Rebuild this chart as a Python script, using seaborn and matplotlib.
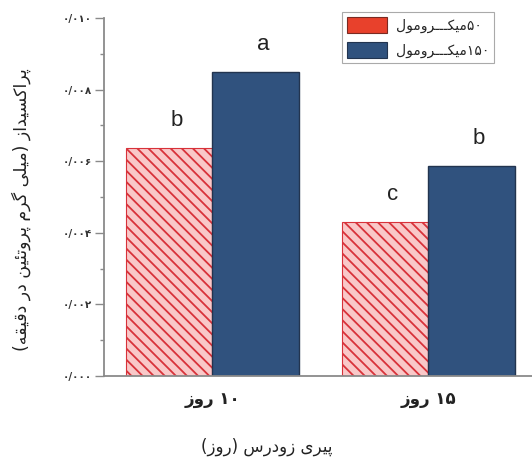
import matplotlib
matplotlib.use("Agg")
import matplotlib.pyplot as plt
from matplotlib.patches import Patch
from matplotlib.ticker import MultipleLocator
import seaborn as sns
import pandas as pd

# ---------------- data ----------------
days = ["۱۰ روز", "۱۵ روز"]
concs = ["۵۰میکـــرومول", "۱۵۰میکـــرومول"]
vals_50 = [0.00637, 0.00430]
vals_150 = [0.00848, 0.00587]
letters_50 = ["b", "c"]
letters_150 = ["a", "b"]
yticks = [0.000, 0.002, 0.004, 0.006, 0.008, 0.010]
ytick_labels = ["۰/۰۰۰", "۰/۰۰۲", "۰/۰۰۴", "۰/۰۰۶", "۰/۰۰۸", "۰/۰۱۰"]
xlabel = "پیری زودرس (روز)"
ylabel = "پراکسیداز (میلی گرم پروتئین در دقیقه)"

# ------------- minimal Persian shaping + bidi -------------
FORMS = {
    'ا': (0xFE8D, 0xFE8E, None, None),
    'ت': (0xFE95, 0xFE96, 0xFE97, 0xFE98),
    'ئ': (0xFE89, 0xFE8A, 0xFE8B, 0xFE8C),
    'د': (0xFEA9, 0xFEAA, None, None),
    'ر': (0xFEAD, 0xFEAE, None, None),
    'ز': (0xFEAF, 0xFEB0, None, None),
    'س': (0xFEB1, 0xFEB2, 0xFEB3, 0xFEB4),
    'ق': (0xFED5, 0xFED6, 0xFED7, 0xFED8),
    'ل': (0xFEDD, 0xFEDE, 0xFEDF, 0xFEE0),
    'م': (0xFEE1, 0xFEE2, 0xFEE3, 0xFEE4),
    'ن': (0xFEE5, 0xFEE6, 0xFEE7, 0xFEE8),
    'ه': (0xFEE9, 0xFEEA, 0xFEEB, 0xFEEC),
    'و': (0xFEED, 0xFEEE, None, None),
    'پ': (0xFB56, 0xFB57, 0xFB58, 0xFB59),
    'ک': (0xFB8E, 0xFB8F, 0xFB90, 0xFB91),
    'گ': (0xFB92, 0xFB93, 0xFB94, 0xFB95),
    'ی': (0xFBFC, 0xFBFD, 0xFBFE, 0xFBFF),
}
KASH = 'ـ'
DIGITS = set('۰۱۲۳۴۵۶۷۸۹/')


def joins_left(c):
    return c == KASH or (c in FORMS and FORMS[c][2] is not None)


def is_letter(c):
    return c == KASH or c in FORMS


def shape(s):
    out = []
    for i, c in enumerate(s):
        if c not in FORMS:
            out.append(c)
            continue
        prev = s[i - 1] if i > 0 else ''
        nxt = s[i + 1] if i + 1 < len(s) else ''
        p = bool(prev) and joins_left(prev)
        n = bool(nxt) and is_letter(nxt) and FORMS[c][2] is not None
        iso, fin, ini, med = FORMS[c]
        if p and n:
            cp = med
        elif p:
            cp = fin
        elif n:
            cp = ini
        else:
            cp = iso
        out.append(chr(cp))
    return ''.join(out)


def fa(s):
    s = shape(s)
    runs = []
    for c in s:
        d = c in DIGITS
        if runs and runs[-1][0] == d:
            runs[-1][1].append(c)
        else:
            runs.append([d, [c]])
    mirror = {'(': ')', ')': '('}
    vis = []
    for d, chars in reversed(runs):
        if d:
            vis.append(''.join(chars))
        else:
            vis.append(''.join(mirror.get(c, c) for c in reversed(chars)))
    return ''.join(vis)


# ---------------- plot ----------------
sns.set_style("white")
plt.rcParams['font.family'] = ['DejaVu Sans']
plt.rcParams['hatch.linewidth'] = 1.3
plt.rcParams['hatch.color'] = '#d8323a'

df = pd.DataFrame({
    "day": days * 2,
    "conc": [concs[0]] * 2 + [concs[1]] * 2,
    "value": vals_50 + vals_150,
})

fig = plt.figure(figsize=(5.32, 4.63), dpi=100)
ax = fig.add_axes([104 / 532, 1 - 376 / 463, 1 - 104 / 532, (376 - 18) / 463])

face_red = '#f9c8c8'
blue = '#30527e'
sns.barplot(data=df, x="day", y="value", hue="conc",
            palette=[face_red, blue], ax=ax, legend=False,
            width=0.8, saturation=1)

for p in ax.containers[0]:
    p.set_hatch('\\\\\\')
    p.set_edgecolor('#d8323a')
    p.set_linewidth(0.8)
for p in ax.containers[1]:
    p.set_edgecolor('#22344f')
    p.set_linewidth(1.0)

# significance letters
for cont, letters in zip(ax.containers, [letters_50, letters_150]):
    for p, t in zip(cont, letters):
        xc = p.get_x() + p.get_width() / 2 + 0.035
        ax.text(xc, p.get_height() + 0.00062, t, ha='center', va='baseline',
                fontsize=16, family='Liberation Sans', color='#222222')

ax.set_xlim(-0.5, 1.48)
ax.set_ylim(0, 0.010)
ax.set_yticks(yticks)
ax.set_yticklabels(ytick_labels, fontsize=7.5, fontweight='bold', color='#333333')
ax.yaxis.set_minor_locator(MultipleLocator(0.001))
ax.tick_params(axis='y', which='major', direction='out', length=6.5, width=1.0,
               color='#8a8a8a', pad=2, left=True)
ax.tick_params(axis='y', which='minor', direction='out', length=3, width=1.0,
               color='#8a8a8a', left=True)
ax.set_xticks([0, 1])
ax.set_xticklabels([fa(d) for d in days], fontsize=12, fontweight='bold', color='#222222')
ax.tick_params(axis='x', length=0, pad=10)

for side in ['top', 'right']:
    ax.spines[side].set_visible(False)
for side in ['left', 'bottom']:
    ax.spines[side].set_color('#8a8a8a')
    ax.spines[side].set_linewidth(1.3)

ax.set_xlabel(fa(xlabel), fontsize=12, color='#222222')
ax.xaxis.set_label_coords((267 - 104) / 428, -(438 - 376) / 358)
ax.set_ylabel(fa(ylabel), fontsize=12.5, color='#222222')
ax.yaxis.set_label_coords((31 - 104) / 428, (376 - 210) / 358)

handles = [Patch(facecolor='#e8412c', edgecolor='#7a2a22', linewidth=0.8),
           Patch(facecolor=blue, edgecolor='#22344f', linewidth=0.8)]
leg = fig.legend(handles, [fa(c) for c in concs], loc='upper right',
                 bbox_to_anchor=(494 / 532, 1 - 12 / 463),
                 bbox_transform=fig.transFigure,
                 fontsize=10, frameon=True, fancybox=False, framealpha=1,
                 edgecolor='#aaaaaa', handlelength=2.9, handleheight=1.45,
                 labelspacing=0.6, handletextpad=0.6, borderpad=0.35,
                 borderaxespad=0)
leg.get_frame().set_linewidth(0.8)

fig.savefig("out.png", dpi=100)
